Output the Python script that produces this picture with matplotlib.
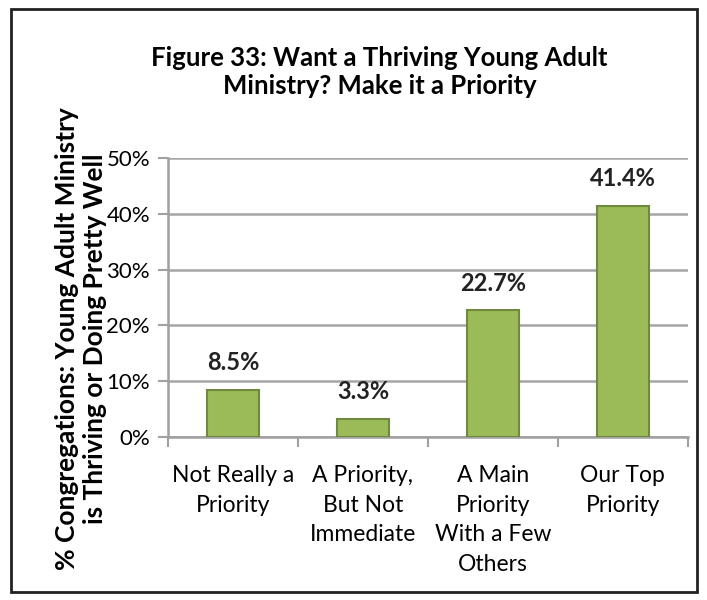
import matplotlib.pyplot as plt
from matplotlib.patches import Rectangle

categories = ['Not Really a\nPriority', 'A Priority,\nBut Not\nImmediate', 'A Main\nPriority\nWith a Few\nOthers', 'Our Top\nPriority']
values = [8.5, 3.3, 22.7, 41.4]
yticks = [0, 10, 20, 30, 40, 50]

plt.rcParams['font.family'] = ['Lato', 'DejaVu Sans']

fig = plt.figure(figsize=(7.07, 6), dpi=100)
ax = fig.add_axes([0.2376, 0.2717, 0.7354, 0.465])

x = range(len(values))
ax.bar(x, values, width=0.4, color='#9BBB59', edgecolor='#71893F', linewidth=1.5, zorder=3)
for i, v in enumerate(values):
    ax.text(i, v + 2.8, f'{v}%', ha='center', va='bottom', fontsize=17, fontweight='bold', color='#222222')

ax.set_xlim(-0.5, len(values) - 0.5)
ax.set_ylim(0, 50)
ax.set_yticks(yticks)
ax.set_yticklabels([f'{t}%' for t in yticks], fontsize=16)
ax.set_xticks(list(x))
ax.set_xticklabels(categories, fontsize=16.5, va='top', linespacing=1.52)
ax.tick_params(axis='x', length=0, pad=20)
ax.set_xticks([i + 0.5 for i in range(-1, len(values))], minor=True)
ax.tick_params(axis='x', which='minor', length=7, width=1.5, color='#A0A0A0', direction='out')
ax.tick_params(axis='y', length=7, width=1.5, color='#A0A0A0', direction='out', pad=6)
ax.grid(axis='y', color='#A6A6A6', linewidth=1.8, zorder=0)
ax.set_axisbelow(True)
for s in ['top', 'right']:
    ax.spines[s].set_visible(False)
for s in ['left', 'bottom']:
    ax.spines[s].set_color('#A0A0A0')
    ax.spines[s].set_linewidth(1.8)

fig.text(0.537, 0.88, 'Figure 33: Want a Thriving Young Adult\nMinistry? Make it a Priority',
         ha='center', va='center', fontsize=18.5, fontweight='bold', linespacing=1.2)
fig.text(0.115, 0.435, '% Congregations: Young Adult Ministry\nis Thriving or Doing Pretty Well',
         ha='center', va='center', rotation=90, fontsize=19, fontweight='bold', linespacing=1.2)

fig.patches.append(Rectangle((0.0156, 0.0133), 0.9703, 0.9717, transform=fig.transFigure,
                             fill=False, edgecolor='#222222', linewidth=2))

fig.savefig('out.png', dpi=100)
